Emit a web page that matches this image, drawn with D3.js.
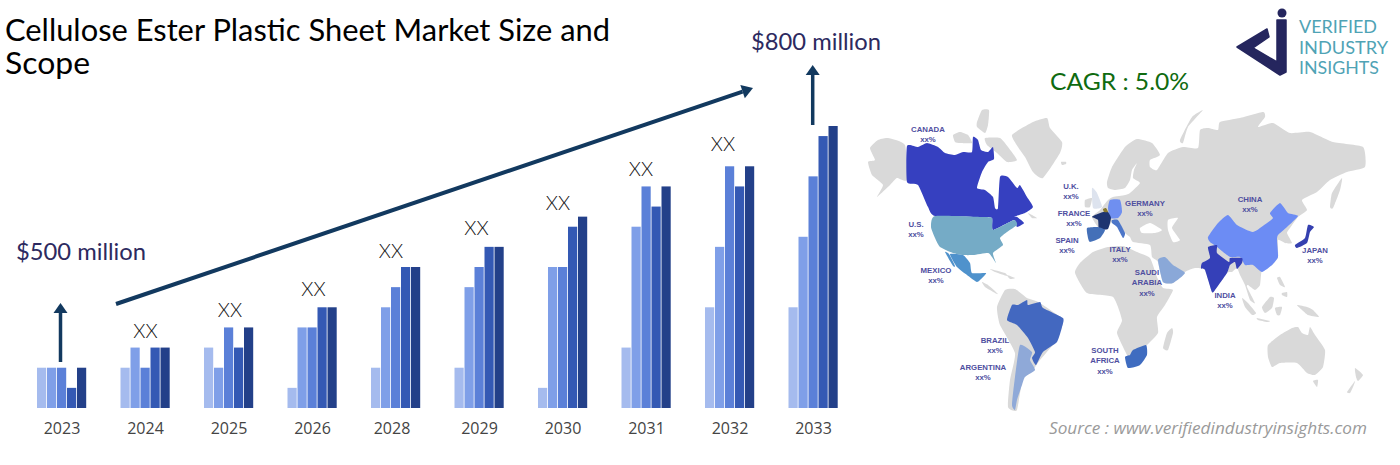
<!DOCTYPE html>
<html>
<head>
<meta charset="utf-8">
<script src="https://cdn.jsdelivr.net/npm/d3@7"></script>
<style>
    html, body { margin: 0; padding: 0; background: #fff; overflow: hidden; }
</style>
</head>
<body>
<div id="chart"></div>
<script>
// Chart data
const years = ["2023", "2024", "2025", "2026", "2028", "2029", "2030", "2031", "2032", "2033"];
const series1 = [2, 2, 3, 1, 2, 2, 1, 3, 5, 5];
const series2 = [2, 3, 2, 4, 5, 6, 7, 9, 8, 8.5];
const series3 = [2, 2, 4, 4, 6, 7, 7, 11, 12, 11.5];
const series4 = [1, 3, 3, 5, 7, 8, 9, 10, 11, 13.5];
const series5 = [2, 3, 4, 5, 7, 8, 9.5, 11, 12, 14];
const seriesNames = ["s1", "s2", "s3", "s4", "s5"];
const seriesColors = ["#a5bbee", "#7f9fe8", "#5b80d8", "#3459b4", "#234089"];
const allSeries = [series1, series2, series3, series4, series5];

// the "XX" placeholders float a little above each group
const xxYears = ["2024", "2025", "2026", "2028", "2029", "2030", "2031", "2032"];
const xxLevels = [3.5, 4.5, 5.55, 7.45, 8.6, 9.85, 11.5, 12.75];
const xxShift = [0, 1, 1, -5, -3, -5, -5.5, -7];

// Map labels
const mapLabels = [
    { lines: ["CANADA", "xx%"], x: 928, y: 132 },
    { lines: ["U.S.", "xx%"], x: 916, y: 227 },
    { lines: ["MEXICO", "xx%"], x: 936, y: 273 },
    { lines: ["U.K.", "xx%"], x: 1071, y: 189 },
    { lines: ["FRANCE", "xx%"], x: 1074, y: 216 },
    { lines: ["SPAIN", "xx%"], x: 1067, y: 243 },
    { lines: ["GERMANY", "xx%"], x: 1145, y: 206 },
    { lines: ["ITALY", "xx%"], x: 1120, y: 252 },
    { lines: ["SAUDI", "ARABIA", "xx%"], x: 1147, y: 275 },
    { lines: ["CHINA", "xx%"], x: 1250, y: 202 },
    { lines: ["JAPAN", "xx%"], x: 1315, y: 253 },
    { lines: ["INDIA", "xx%"], x: 1225, y: 298 },
    { lines: ["BRAZIL", "xx%"], x: 995, y: 343 },
    { lines: ["ARGENTINA", "xx%"], x: 983, y: 370 },
    { lines: ["SOUTH", "AFRICA", "xx%"], x: 1105, y: 353 }
];

// Map outlines, traced by hand
const grey = "#d9d9d9";
const mapShapes = [
    { fill: grey, pts: [[878,140],[888,138],[905,145],[907,180],[897,178],[890,185],[877,197],[883,185],[872,175],[868,162],[875,160],[870,148]] },
    { fill: grey, pts: [[953,135],[960,132],[968,135],[972,143],[960,143],[955,142]] },
    { fill: grey, pts: [[977,122],[982,110],[989,110],[988,125],[985,133],[977,127]] },
    { fill: grey, pts: [[985,138],[1000,138],[1008,147],[1017,160],[1007,162],[997,153],[987,145]] },
    { fill: grey, pts: [[1012,135],[1033,122],[1047,118],[1050,128],[1062,142],[1060,153],[1043,178],[1033,172],[1025,157],[1020,150]] },
    { fill: grey, pts: [[1061,162],[1066,162],[1066,164],[1062,165]] },
    { fill: grey, pts: [[1028,213],[1037,218],[1032,218]] },
    { fill: grey, pts: [[990,269],[1005,273],[1007,276],[995,272]] },
    { fill: grey, pts: [[1007,275],[1015,278],[1010,279]] },
    { fill: grey, pts: [[982,282],[988,285],[998,294],[995,293],[985,287]] },
    { fill: grey, pts: [[997,307],[1005,290],[1015,289],[1027,298],[1038,302],[1063,320],[1055,342],[1040,360],[1033,370],[1023,377],[1017,410],[1008,407],[1010,380],[1015,353],[1000,325]] },
    { fill: grey, pts: [[1075,273],[1080,263],[1093,252],[1108,247],[1123,246],[1137,252],[1150,258],[1157,277],[1163,288],[1173,290],[1165,305],[1157,317],[1158,333],[1147,345],[1130,362],[1127,355],[1117,333],[1122,320],[1113,297],[1087,293]] },
    { fill: grey, pts: [[1163,348],[1167,333],[1172,328],[1173,333],[1168,350]] },
    { fill: grey, pts: [[1108,200],[1113,197],[1125,195],[1130,193],[1140,183],[1133,178],[1134,170],[1137,163],[1132,170],[1130,180],[1125,188],[1115,190],[1108,188],[1107,182],[1112,167],[1125,147],[1137,139],[1152,143],[1160,155],[1150,160],[1150,167],[1157,170],[1168,153],[1183,147],[1198,148],[1200,130],[1208,128],[1218,130],[1220,122],[1240,118],[1263,112],[1265,117],[1258,127],[1273,123],[1290,133],[1310,132],[1333,142],[1363,147],[1365,167],[1347,172],[1330,180],[1317,192],[1302,200],[1307,210],[1298,217],[1290,228],[1287,233],[1292,243],[1285,243],[1278,240],[1278,257],[1272,265],[1262,270],[1260,285],[1255,290],[1248,285],[1247,287],[1255,303],[1250,300],[1245,285],[1240,275],[1237,268],[1232,272],[1227,273],[1215,290],[1212,292],[1205,270],[1195,268],[1185,272],[1173,283],[1163,282],[1158,262],[1152,257],[1150,245],[1133,242],[1130,237],[1125,233],[1118,220],[1112,222],[1105,230],[1098,227],[1092,217],[1100,210]] },
    { fill: "#fff", pts: [[1140,228],[1150,223],[1162,230],[1155,233],[1142,233]] },
    { fill: "#fff", pts: [[1168,220],[1178,218],[1172,228],[1180,240],[1173,242],[1168,230]] },
    { fill: grey, pts: [[1180,140],[1192,117],[1203,110],[1188,127],[1183,143]] },
    { fill: grey, pts: [[1330,207],[1332,193],[1342,178],[1340,190],[1333,208]] },
    { fill: grey, pts: [[1085,200],[1092,198],[1090,207],[1085,207]] },
    { fill: grey, pts: [[1277,278],[1280,277],[1285,287],[1280,285]] },
    { fill: grey, pts: [[1282,293],[1287,292],[1287,297],[1282,295]] },
    { fill: grey, pts: [[1242,298],[1248,303],[1256,313],[1252,315],[1245,307]] },
    { fill: grey, pts: [[1257,318],[1270,321],[1267,322],[1258,320]] },
    { fill: grey, pts: [[1262,307],[1270,297],[1274,298],[1272,308],[1265,313]] },
    { fill: grey, pts: [[1275,308],[1282,307],[1280,315],[1277,315]] },
    { fill: grey, pts: [[1297,305],[1307,307],[1313,310],[1319,317],[1308,315],[1302,310]] },
    { fill: grey, pts: [[1268,345],[1280,335],[1292,328],[1298,327],[1302,333],[1308,335],[1310,327],[1315,335],[1325,350],[1323,367],[1315,375],[1307,373],[1297,363],[1280,363],[1272,367],[1268,357]] },
    { fill: grey, pts: [[1313,381],[1318,380],[1317,387]] },
    { fill: grey, pts: [[1355,368],[1363,375],[1358,381],[1356,377]] },
    { fill: grey, pts: [[1347,392],[1355,381],[1353,387],[1350,393]] },
    // coloured countries
    { fill: "#3640c0", pts: [[907,146],[918,147],[927,143],[938,147],[945,153],[955,155],[963,152],[972,152],[973,137],[978,140],[981,150],[988,152],[993,147],[994,159],[988,162],[982,172],[977,188],[985,190],[993,197],[995,208],[998,208],[1000,177],[1008,177],[1017,188],[1020,185],[1027,197],[1033,207],[1025,213],[1013,217],[1017,217],[1024,223],[1017,227],[1014,220],[993,230],[992,218],[982,217],[935,216],[928,207],[918,185],[907,182]] },
    { fill: "#75abc6", pts: [[935,216],[982,217],[992,218],[993,230],[1014,220],[1017,225],[1007,232],[1000,238],[1003,245],[993,253],[996,263],[992,257],[988,253],[973,255],[963,255],[953,253],[940,247],[935,238],[931,227]] },
    { fill: "#4f92cc", pts: [[950,254],[963,255],[970,263],[972,273],[986,273],[982,278],[977,282],[967,275],[957,267]] },
    { fill: "#4f92cc", pts: [[945,252],[949,254],[955,266],[953,266]] },
    { fill: "#4368c0", pts: [[1012,305],[1018,305],[1027,300],[1028,305],[1040,302],[1043,308],[1063,318],[1062,327],[1057,342],[1043,352],[1036,365],[1032,358],[1035,352],[1028,338],[1017,325],[1007,320]] },
    { fill: "#8fa9d8", pts: [[1020,345],[1032,352],[1030,360],[1035,370],[1025,377],[1022,385],[1017,400],[1015,410],[1012,405],[1015,377]] },
    { fill: "#3f6cc0", pts: [[1125,357],[1130,355],[1133,350],[1146,345],[1147,355],[1140,365],[1128,368]] },
    { fill: "#dde3ee", pts: [[1092,188],[1097,193],[1102,207],[1093,208]] },
    { fill: "#6f8ff0", pts: [[1110,200],[1120,200],[1122,212],[1118,218],[1110,218],[1108,208]] },
    { fill: "#1d3470", pts: [[1095,215],[1103,212],[1108,212],[1111,218],[1108,229],[1099,229],[1098,220],[1092,217]] },
    { fill: "#8a7a30", pts: [[1103,209],[1106,208],[1108,212],[1104,212]] },
    { fill: "#4470b8", pts: [[1087,228],[1098,227],[1105,230],[1100,238],[1090,242],[1088,238]] },
    { fill: "#4d76c8", pts: [[1112,220],[1118,220],[1125,233],[1123,238],[1117,227],[1112,223]] },
    { fill: "#8aa8d8", pts: [[1158,260],[1165,257],[1173,265],[1185,273],[1173,283],[1163,282]] },
    { fill: "#6c8cf4", pts: [[1208,237],[1218,223],[1228,215],[1237,225],[1253,232],[1267,223],[1273,218],[1270,213],[1280,203],[1288,213],[1298,216],[1287,227],[1278,235],[1277,240],[1278,257],[1272,265],[1262,272],[1253,265],[1245,265],[1240,257],[1230,257],[1217,247],[1210,242]] },
    { fill: "#3540b8", pts: [[1208,247],[1217,245],[1217,253],[1229,262],[1230,258],[1242,258],[1242,263],[1237,269],[1235,262],[1230,265],[1227,273],[1215,290],[1212,292],[1205,270],[1201,268],[1202,263],[1210,258]] },
    { fill: "#3540b0", pts: [[1308,225],[1314,227],[1310,232],[1307,243],[1297,248],[1295,245],[1305,238]] }
];

const width = 1400, height = 465;
const svg = d3.select("#chart").append("svg").attr("width", width).attr("height", height).style("display", "block");

drawMap();
drawBars();
drawArrows();
drawTexts();
drawLogo();

// Bars, axis and XX labels
function drawBars() {
    const xScale = d3.scaleBand().domain(years).range([37, 838.5]).paddingInner(33.5 / 83.5);
    const inner = d3.scaleBand().domain(seriesNames).range([0, xScale.bandwidth()]);
    const yScale = d3.scaleLinear().domain([0, 14]).range([408, 126]);

    seriesNames.forEach((name, i) => {
        svg.append("g").selectAll("rect")
            .data(allSeries[i]).enter().append("rect")
            .attr("x", (d, j) => xScale(years[j]) + inner(name))
            .attr("y", d => yScale(d))
            .attr("width", inner.bandwidth() - 0.8)
            .attr("height", d => 408 - yScale(d))
            .attr("fill", seriesColors[i]);
    });

    const axis = svg.append("g").attr("transform", "translate(0,408)")
        .call(d3.axisBottom(xScale).tickSize(0).tickPadding(15));
    axis.select(".domain").remove();
    axis.selectAll("text")
        .attr("font-family", "'Open Sans'")
        .attr("font-size", 16)
        .attr("font-weight", 500)
        .attr("fill", "#444")
        .attr("dx", d => d === "2028" ? -4 : 0);

    svg.append("g").selectAll("text")
        .data(xxYears).enter().append("text")
        .attr("x", (d, i) => xScale(d) + xScale.bandwidth() / 2 + xxShift[i])
        .attr("y", (d, i) => yScale(xxLevels[i]))
        .attr("text-anchor", "middle")
        .attr("font-family", "Lato")
        .attr("font-weight", 300)
        .attr("font-size", 19.5)
        .attr("fill", "#111")
        .text("XX");
}

// Growth arrows
function drawArrows() {
    const navy = "#12395f";
    const arrow = (x1, y1, x2, y2, w, headW, headL) => {
        const a = Math.atan2(y2 - y1, x2 - x1);
        const bx = x2 - headL * Math.cos(a), by = y2 - headL * Math.sin(a);
        const nx = -Math.sin(a) * headW / 2, ny = Math.cos(a) * headW / 2;
        svg.append("line").attr("x1", x1).attr("y1", y1).attr("x2", bx).attr("y2", by)
            .attr("stroke", navy).attr("stroke-width", w);
        svg.append("polygon")
            .attr("points", [[x2, y2], [bx + nx, by + ny], [bx - nx, by - ny]].join(" "))
            .attr("fill", navy);
    };
    arrow(116, 304, 753, 88, 4, 14, 11);
    arrow(60.5, 362, 60.5, 303, 3.5, 14, 10);
    arrow(812.7, 125, 812.7, 65, 3.5, 14, 10);
}

// World map
function drawMap() {
    const line = d3.line().curve(d3.curveCardinalClosed.tension(0.5));
    svg.append("g").selectAll("path")
        .data(mapShapes).enter().append("path")
        .attr("d", d => line(d.pts))
        .attr("fill", d => d.fill);

    const labels = svg.append("g")
        .attr("font-family", "'Liberation Sans'")
        .attr("font-size", 7.8)
        .attr("font-weight", "bold")
        .attr("fill", "#4f4f9f")
        .attr("text-anchor", "middle");
    mapLabels.forEach(l => {
        l.lines.forEach((t, i) => {
            labels.append("text").attr("x", l.x).attr("y", l.y + i * 10.4).text(t);
        });
    });
}

// Title, values, CAGR and source
function drawTexts() {
    const put = (t, x, y, size, fill, len, font) => svg.append("text")
        .attr("x", x).attr("y", y)
        .attr("font-family", font || "Lato")
        .attr("font-size", size)
        .attr("fill", fill)
        .attr("textLength", len)
        .attr("lengthAdjust", "spacingAndGlyphs")
        .text(t);

    put("Cellulose Ester Plastic Sheet Market Size and", 5, 41, 30, "#000", 605);
    put("Scope", 5, 74, 30, "#000", 85);
    put("$500 million", 16, 260, 23, "#2d2a60", 130);
    put("$800 million", 751, 50, 23, "#2d2a60", 130);
    put("CAGR : 5.0%", 1050, 90, 23, "#0f6b10", 139);
    put("Source : www.verifiedindustryinsights.com", 1049, 434, 17, "#9a9a9a", 318, "'Open Sans'")
        .attr("font-style", "italic");
}

// Logo mark and wordmark
function drawLogo() {
    const mark = [[1237,47],[1267,29],[1269,37],[1253,48],[1277,62],[1277,20],[1286,20],[1286,72],[1280,75]];
    svg.append("polygon")
        .attr("points", mark.join(" "))
        .attr("fill", "#25265e").attr("stroke", "#25265e")
        .attr("stroke-width", 1.5).attr("stroke-linejoin", "round");
    svg.append("circle").attr("cx", 1282).attr("cy", 13).attr("r", 4.5).attr("fill", "#25265e");

    const words = ["VERIFIED", "INDUSTRY", "INSIGHTS"];
    const lens = [78, 89, 80];
    words.forEach((w, i) => {
        svg.append("text")
            .attr("x", 1299).attr("y", 33 + i * 20.5)
            .attr("font-family", "Lato").attr("font-size", 17)
            .attr("fill", "#4fa3b5")
            .attr("textLength", lens[i]).attr("lengthAdjust", "spacingAndGlyphs")
            .text(w);
    });
}
</script>
</body>
</html>
